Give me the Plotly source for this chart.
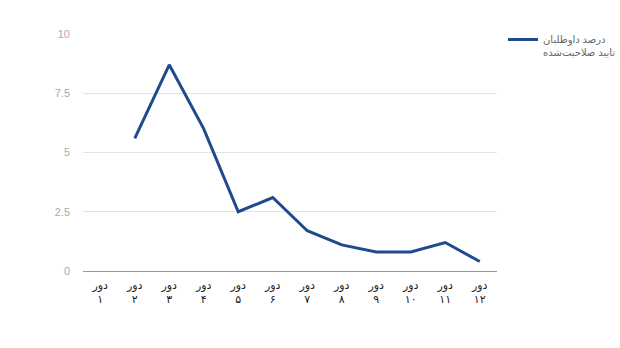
import plotly.graph_objects as go

categories = ["دور<br>۱", "دور<br>۲", "دور<br>۳", "دور<br>۴", "دور<br>۵", "دور<br>۶",
              "دور<br>۷", "دور<br>۸", "دور<br>۹", "دور<br>۱۰", "دور<br>۱۱", "دور<br>۱۲"]
values = [None, 5.6, 8.7, 6.0, 2.5, 3.1, 1.7, 1.1, 0.8, 0.8, 1.2, 0.4]
series_name = "درصد داوطلبان<br>تایید صلاحیت‌شده"
y_ticks = [0, 2.5, 5, 7.5, 10]
y_tick_labels = ["0", "2.5", "5", "7.5", "10"]

fig = go.Figure()
fig.add_trace(go.Scatter(
    x=list(range(len(categories))), y=values, mode="lines", name=series_name,
    line=dict(color="#1f4a8c", width=3), connectgaps=False,
))

fig.update_layout(
    width=620, height=348,
    margin=dict(l=83, r=123, t=34, b=77, autoexpand=False),
    paper_bgcolor="white", plot_bgcolor="white",
    font=dict(family="Liberation Sans, Arial, DejaVu Sans", size=11, color="#222"),
    showlegend=True,
    legend=dict(x=1.0145, y=1.032, xanchor="left", yanchor="top", valign="top",
                font=dict(size=10, color="#666"), itemwidth=30,
                bgcolor="rgba(0,0,0,0)", tracegroupgap=0),
    xaxis=dict(
        tickmode="array", tickvals=list(range(len(categories))), ticktext=categories,
        range=[-0.5, len(categories) - 0.5], showgrid=False, zeroline=False,
        showline=False, ticks="", ticklabelstandoff=6,
        tickfont=dict(size=11, color="#222"),
    ),
    yaxis=dict(
        range=[0, 10], tickmode="array", tickvals=y_ticks, ticktext=y_tick_labels,
        showgrid=True, gridcolor="#e3e3e3", gridwidth=1,
        zeroline=True, zerolinecolor="#999", zerolinewidth=1,
        showline=False, ticks="", ticklabelstandoff=12,
        tickfont=dict(size=11, color="#aaa"),
    ),
)

fig.write_html("out.html")
